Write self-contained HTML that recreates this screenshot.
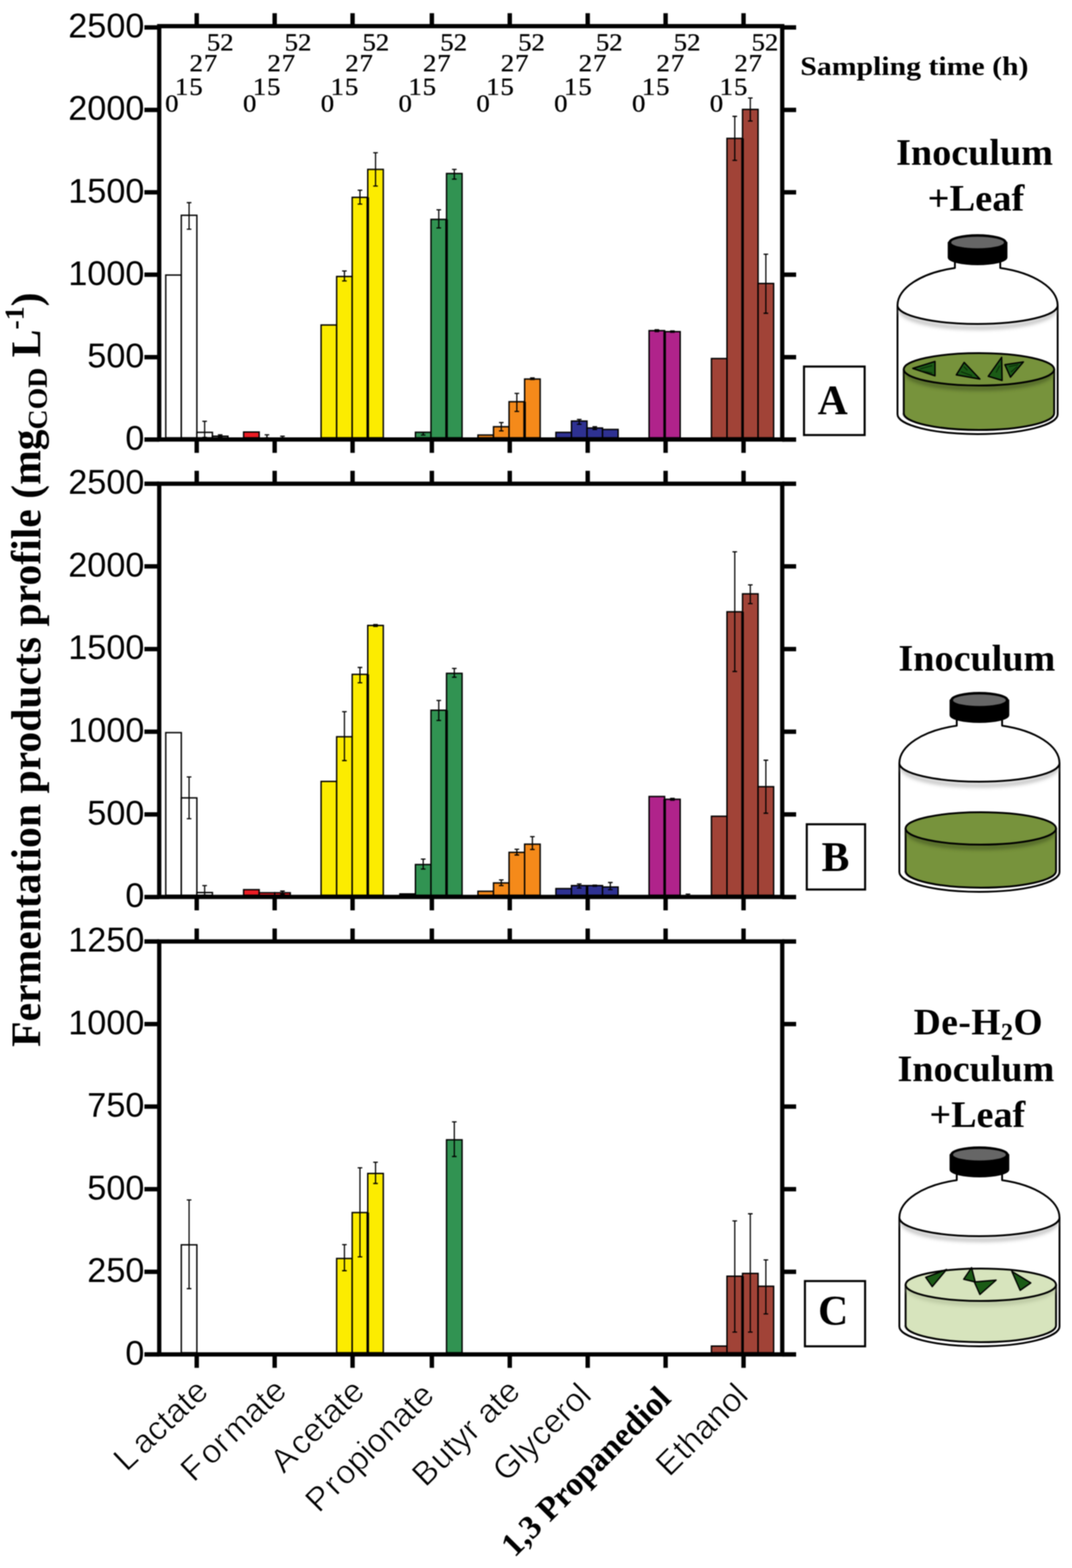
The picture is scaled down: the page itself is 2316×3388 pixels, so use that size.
<!DOCTYPE html>
<html lang="en"><head><meta charset="utf-8"><title>Fermentation products profile</title>
<style>html,body{margin:0;padding:0;background:#fff;}body{width:2316px;height:3388px;overflow:hidden;}svg{display:block;filter:blur(0.8px);}.sans{font-family:"Liberation Sans",Arial,sans-serif;}.serif{font-family:"Liberation Serif","Times New Roman",serif;}</style></head><body>
<svg width="2316" height="3388" viewBox="0 0 2316 3388">
<rect x="0" y="0" width="2316" height="3388" fill="#ffffff"/>
<g stroke="#000" stroke-width="3">
<rect x="358.1" y="594.3" width="33.6" height="351.7" fill="#ffffff"/>
<rect x="391.7" y="465.2" width="33.6" height="480.8" fill="#ffffff"/>
<rect x="425.3" y="934.2" width="33.6" height="11.8" fill="#ffffff"/>
<rect x="458.9" y="942.5" width="33.6" height="3.5" fill="#ffffff"/>
<rect x="526.3" y="933.5" width="33.6" height="12.5" fill="#ec1c24"/>
<rect x="693.7" y="702.2" width="33.6" height="243.8" fill="#fcec00"/>
<rect x="727.3" y="597.4" width="33.6" height="348.6" fill="#fcec00"/>
<rect x="760.9" y="426.4" width="33.6" height="519.6" fill="#fcec00"/>
<rect x="794.5" y="366" width="33.6" height="580" fill="#fcec00"/>
<rect x="897.5" y="934" width="33.6" height="12" fill="#319352"/>
<rect x="931.1" y="474" width="33.6" height="472" fill="#319352"/>
<rect x="964.7" y="374.9" width="33.6" height="571.1" fill="#319352"/>
<rect x="1032.6" y="940" width="33.6" height="6" fill="#f58a1a"/>
<rect x="1066.2" y="922" width="33.6" height="24" fill="#f58a1a"/>
<rect x="1099.8" y="868" width="33.6" height="78" fill="#f58a1a"/>
<rect x="1133.4" y="819" width="33.6" height="127" fill="#f58a1a"/>
<rect x="1201" y="934.2" width="33.6" height="11.8" fill="#2e3192"/>
<rect x="1234.6" y="909.8" width="33.6" height="36.2" fill="#2e3192"/>
<rect x="1268.2" y="924.8" width="33.6" height="21.2" fill="#2e3192"/>
<rect x="1301.8" y="927.9" width="33.6" height="18.1" fill="#2e3192"/>
<rect x="1402.3" y="714.4" width="33.6" height="231.6" fill="#b0238b"/>
<rect x="1435.9" y="716.6" width="33.6" height="229.4" fill="#b0238b"/>
<rect x="1537" y="774.7" width="33.6" height="171.3" fill="#a14337"/>
<rect x="1570.6" y="299" width="33.6" height="647" fill="#a14337"/>
<rect x="1604.2" y="236.4" width="33.6" height="709.6" fill="#a14337"/>
<rect x="1637.8" y="612.5" width="33.6" height="333.5" fill="#a14337"/>
<rect x="358.1" y="1583" width="33.6" height="351.4" fill="#ffffff"/>
<rect x="391.7" y="1724" width="33.6" height="210.4" fill="#ffffff"/>
<rect x="425.3" y="1928.5" width="33.6" height="5.9" fill="#ffffff"/>
<rect x="526.3" y="1922.3" width="33.6" height="12.1" fill="#ec1c24"/>
<rect x="559.9" y="1929" width="33.6" height="5.4" fill="#ec1c24"/>
<rect x="593.5" y="1929" width="33.6" height="5.4" fill="#ec1c24"/>
<rect x="693.7" y="1688.4" width="33.6" height="246" fill="#fcec00"/>
<rect x="727.3" y="1591.9" width="33.6" height="342.5" fill="#fcec00"/>
<rect x="760.9" y="1457.1" width="33.6" height="477.3" fill="#fcec00"/>
<rect x="794.5" y="1351.4" width="33.6" height="583" fill="#fcec00"/>
<rect x="863.9" y="1931.5" width="33.6" height="2.9" fill="#319352"/>
<rect x="897.5" y="1868" width="33.6" height="66.4" fill="#319352"/>
<rect x="931.1" y="1534.6" width="33.6" height="399.8" fill="#319352"/>
<rect x="964.7" y="1454.9" width="33.6" height="479.5" fill="#319352"/>
<rect x="1032.6" y="1925.8" width="33.6" height="8.6" fill="#f58a1a"/>
<rect x="1066.2" y="1907.8" width="33.6" height="26.6" fill="#f58a1a"/>
<rect x="1099.8" y="1841.7" width="33.6" height="92.7" fill="#f58a1a"/>
<rect x="1133.4" y="1824" width="33.6" height="110.4" fill="#f58a1a"/>
<rect x="1201" y="1920" width="33.6" height="14.4" fill="#2e3192"/>
<rect x="1234.6" y="1913.5" width="33.6" height="20.9" fill="#2e3192"/>
<rect x="1268.2" y="1913.5" width="33.6" height="20.9" fill="#2e3192"/>
<rect x="1301.8" y="1916.6" width="33.6" height="17.8" fill="#2e3192"/>
<rect x="1402.3" y="1721" width="33.6" height="213.4" fill="#b0238b"/>
<rect x="1435.9" y="1727" width="33.6" height="207.4" fill="#b0238b"/>
<rect x="1469.5" y="1936" width="33.6" height="-1.6" fill="#b0238b"/>
<rect x="1537" y="1763.7" width="33.6" height="170.7" fill="#a14337"/>
<rect x="1570.6" y="1321.9" width="33.6" height="612.5" fill="#a14337"/>
<rect x="1604.2" y="1283.1" width="33.6" height="651.3" fill="#a14337"/>
<rect x="1637.8" y="1699.8" width="33.6" height="234.6" fill="#a14337"/>
<rect x="391.7" y="2689.7" width="33.6" height="233.2" fill="#ffffff"/>
<rect x="727.3" y="2719.2" width="33.6" height="203.7" fill="#fcec00"/>
<rect x="760.9" y="2620" width="33.6" height="302.9" fill="#fcec00"/>
<rect x="794.5" y="2535.5" width="33.6" height="387.4" fill="#fcec00"/>
<rect x="964.7" y="2462.8" width="33.6" height="460.1" fill="#319352"/>
<rect x="1537" y="2908.5" width="33.6" height="14.4" fill="#a14337"/>
<rect x="1570.6" y="2757.5" width="33.6" height="165.4" fill="#a14337"/>
<rect x="1604.2" y="2751.5" width="33.6" height="171.4" fill="#a14337"/>
<rect x="1637.8" y="2779.2" width="33.6" height="143.7" fill="#a14337"/>
</g>
<g stroke="#000" stroke-width="2.6" fill="none">
<path d="M408.5 437.9V495.2M403.5 437.9H413.5M403.5 495.2H413.5"/>
<path d="M442.1 910.2V945M437.1 910.2H447.1M437.1 945H447.1"/>
<path d="M475.7 939.5V945M470.7 939.5H480.7M470.7 945H480.7"/>
<path d="M576.7 939.5V946M571.7 939.5H581.7M571.7 946H581.7"/>
<path d="M610.3 942.5V946M605.3 942.5H615.3M605.3 946H615.3"/>
<path d="M744.1 585.5V607M739.1 585.5H749.1M739.1 607H749.1"/>
<path d="M777.7 411V441M772.7 411H782.7M772.7 441H782.7"/>
<path d="M811.3 330V402M806.3 330H816.3M806.3 402H816.3"/>
<path d="M914.3 934.5V940M909.3 934.5H919.3M909.3 940H919.3"/>
<path d="M947.9 453.3V492.5M942.9 453.3H952.9M942.9 492.5H952.9"/>
<path d="M981.5 366V387M976.5 366H986.5M976.5 387H986.5"/>
<path d="M1083 913V931M1078 913H1088M1078 931H1088"/>
<path d="M1116.6 850V889M1111.6 850H1121.6M1111.6 889H1121.6"/>
<path d="M1150.2 816.5V820M1145.2 816.5H1155.2M1145.2 820H1155.2"/>
<path d="M1251.4 906.3V916.7M1246.4 906.3H1256.4M1246.4 916.7H1256.4"/>
<path d="M1285 922V927.9M1280 922H1290M1280 927.9H1290"/>
<path d="M1419.1 712.5V716.5M1414.1 712.5H1424.1M1414.1 716.5H1424.1"/>
<path d="M1452.7 715V718M1447.7 715H1457.7M1447.7 718H1457.7"/>
<path d="M1587.4 251.4V346.5M1582.4 251.4H1592.4M1582.4 346.5H1592.4"/>
<path d="M1621 211.7V261.5M1616 211.7H1626M1616 261.5H1626"/>
<path d="M1654.6 549.2V676.9M1649.6 549.2H1659.6M1649.6 676.9H1659.6"/>
<path d="M408.5 1678.7V1769M403.5 1678.7H413.5M403.5 1769H413.5"/>
<path d="M442.1 1913.5V1934M437.1 1913.5H447.1M437.1 1934H447.1"/>
<path d="M610.3 1925.4V1932M605.3 1925.4H615.3M605.3 1932H615.3"/>
<path d="M744.1 1537.7V1643.4M739.1 1537.7H749.1M739.1 1643.4H749.1"/>
<path d="M777.7 1442.1V1475.2M772.7 1442.1H782.7M772.7 1475.2H782.7"/>
<path d="M811.3 1349.5V1353.5M806.3 1349.5H816.3M806.3 1353.5H816.3"/>
<path d="M914.3 1856.2V1877.8M909.3 1856.2H919.3M909.3 1877.8H919.3"/>
<path d="M947.9 1513.5V1556.7M942.9 1513.5H952.9M942.9 1556.7H952.9"/>
<path d="M981.5 1444.3V1463.3M976.5 1444.3H986.5M976.5 1463.3H986.5"/>
<path d="M1083 1901.2V1913.5M1078 1901.2H1088M1078 1913.5H1088"/>
<path d="M1116.6 1835V1847.4M1111.6 1835H1121.6M1111.6 1847.4H1121.6"/>
<path d="M1150.2 1807.8V1835.5M1145.2 1807.8H1155.2M1145.2 1835.5H1155.2"/>
<path d="M1251.4 1910V1918.8M1246.4 1910H1256.4M1246.4 1918.8H1256.4"/>
<path d="M1285 1912.5V1915M1280 1912.5H1290M1280 1915H1290"/>
<path d="M1318.6 1906.9V1922.3M1313.6 1906.9H1323.6M1313.6 1922.3H1323.6"/>
<path d="M1452.7 1725V1729M1447.7 1725H1457.7M1447.7 1729H1457.7"/>
<path d="M1486.3 1932V1936M1481.3 1932H1491.3M1481.3 1936H1491.3"/>
<path d="M1587.4 1192.3V1450.9M1582.4 1192.3H1592.4M1582.4 1450.9H1592.4"/>
<path d="M1621 1263.7V1304.2M1616 1263.7H1626M1616 1304.2H1626"/>
<path d="M1654.6 1642.6V1757.1M1649.6 1642.6H1659.6M1649.6 1757.1H1659.6"/>
<path d="M408.5 2592.8V2784.4M403.5 2592.8H413.5M403.5 2784.4H413.5"/>
<path d="M744.1 2689.3V2745.6M739.1 2689.3H749.1M739.1 2745.6H749.1"/>
<path d="M777.7 2523.2V2715.7M772.7 2523.2H782.7M772.7 2715.7H782.7"/>
<path d="M811.3 2511.3V2557.1M806.3 2511.3H816.3M806.3 2557.1H816.3"/>
<path d="M981.5 2424V2498.9M976.5 2424H986.5M976.5 2498.9H986.5"/>
<path d="M1587.4 2638V2878.3M1582.4 2638H1592.4M1582.4 2878.3H1592.4"/>
<path d="M1621 2622.6V2878.3M1616 2622.6H1626M1616 2878.3H1626"/>
<path d="M1654.6 2722.2V2839M1649.6 2722.2H1659.6M1649.6 2839H1659.6"/>
</g>
<g fill="#000">
<rect x="791.8" y="426.4" width="5.5" height="519.6"/>
<rect x="962" y="474" width="5.5" height="472"/>
<rect x="1130.6" y="868" width="5.5" height="78"/>
<rect x="1433.2" y="716.6" width="5.5" height="229.4"/>
<rect x="1601.5" y="299" width="5.5" height="647"/>
<rect x="1569.1" y="774.7" width="3" height="171.3"/>
<rect x="791.8" y="1457.1" width="5.5" height="477.3"/>
<rect x="962" y="1534.6" width="5.5" height="399.8"/>
<rect x="1265.5" y="1913.5" width="5.5" height="20.9"/>
<rect x="1433.2" y="1727" width="5.5" height="207.4"/>
<rect x="1601.5" y="1321.9" width="5.5" height="612.5"/>
<rect x="791.8" y="2620" width="5.5" height="302.9"/>
<rect x="1601.5" y="2757.5" width="5.5" height="165.4"/>
</g>
<g stroke="#000" stroke-width="9.2" fill="none" stroke-linecap="butt">
<rect x="344" y="56.5" width="1346" height="893.1"/>
<rect x="344" y="1045.2" width="1346" height="892.8"/>
<rect x="344" y="2034.2" width="1346" height="892.3"/>
</g>
<g stroke="#000" stroke-width="9.5" fill="none">
<path d="M312 59.3H344M1690 59.3H1720"/>
<path d="M312 237.4H344M1690 237.4H1720"/>
<path d="M312 415.5H344M1690 415.5H1720"/>
<path d="M312 593.6H344M1690 593.6H1720"/>
<path d="M312 771.7H344M1690 771.7H1720"/>
<path d="M312 949.8H344M1690 949.8H1720"/>
<path d="M425 28.5V56.5M425 949.6V978.6"/>
<path d="M593.4 28.5V56.5M593.4 949.6V978.6"/>
<path d="M761.7 28.5V56.5M761.7 949.6V978.6"/>
<path d="M933 28.5V56.5M933 949.6V978.6"/>
<path d="M1101.3 28.5V56.5M1101.3 949.6V978.6"/>
<path d="M1269.7 28.5V56.5M1269.7 949.6V978.6"/>
<path d="M1438 28.5V56.5M1438 949.6V978.6"/>
<path d="M1606.4 28.5V56.5M1606.4 949.6V978.6"/>
<path d="M312 1045.2H344M1690 1045.2H1720"/>
<path d="M312 1223.8H344M1690 1223.8H1720"/>
<path d="M312 1402.4H344M1690 1402.4H1720"/>
<path d="M312 1581.1H344M1690 1581.1H1720"/>
<path d="M312 1759.7H344M1690 1759.7H1720"/>
<path d="M312 1938.3H344M1690 1938.3H1720"/>
<path d="M425 1017.2V1045.2M425 1938V1967"/>
<path d="M593.4 1017.2V1045.2M593.4 1938V1967"/>
<path d="M761.7 1017.2V1045.2M761.7 1938V1967"/>
<path d="M933 1017.2V1045.2M933 1938V1967"/>
<path d="M1101.3 1017.2V1045.2M1101.3 1938V1967"/>
<path d="M1269.7 1017.2V1045.2M1269.7 1938V1967"/>
<path d="M1438 1017.2V1045.2M1438 1938V1967"/>
<path d="M1606.4 1017.2V1045.2M1606.4 1938V1967"/>
<path d="M312 2034.2H344M1690 2034.2H1720"/>
<path d="M312 2212.7H344M1690 2212.7H1720"/>
<path d="M312 2391.1H344M1690 2391.1H1720"/>
<path d="M312 2569.6H344M1690 2569.6H1720"/>
<path d="M312 2748H344M1690 2748H1720"/>
<path d="M312 2926.5H344M1690 2926.5H1720"/>
<path d="M425 2006.2V2034.2M425 2926.5V2955.5"/>
<path d="M593.4 2006.2V2034.2M593.4 2926.5V2955.5"/>
<path d="M761.7 2006.2V2034.2M761.7 2926.5V2955.5"/>
<path d="M933 2006.2V2034.2M933 2926.5V2955.5"/>
<path d="M1101.3 2006.2V2034.2M1101.3 2926.5V2955.5"/>
<path d="M1269.7 2006.2V2034.2M1269.7 2926.5V2955.5"/>
<path d="M1438 2006.2V2034.2M1438 2926.5V2955.5"/>
<path d="M1606.4 2006.2V2034.2M1606.4 2926.5V2955.5"/>
</g>
<g class="sans" font-size="74" text-anchor="end" fill="#000">
<text x="312" y="81.3">2500</text>
<text x="312" y="259.4">2000</text>
<text x="312" y="437.5">1500</text>
<text x="312" y="615.6">1000</text>
<text x="312" y="793.7">500</text>
<text x="312" y="971.8">0</text>
<text x="312" y="1067.2">2500</text>
<text x="312" y="1245.8">2000</text>
<text x="312" y="1424.4">1500</text>
<text x="312" y="1603.1">1000</text>
<text x="312" y="1781.7">500</text>
<text x="312" y="1960.3">0</text>
<text x="312" y="2056.2">1250</text>
<text x="312" y="2234.7">1000</text>
<text x="312" y="2413.1">750</text>
<text x="312" y="2591.6">500</text>
<text x="312" y="2770">250</text>
<text x="312" y="2948.5">0</text>
</g>
<g class="serif" font-size="52" fill="#000" stroke="#000" stroke-width="0.7">
<text transform="translate(356.8 241) scale(1.11 1)">0</text>
<text transform="translate(378.1 205) scale(1.11 1)" letter-spacing="1.8">15</text>
<text transform="translate(409.6 154) scale(1.11 1)" letter-spacing="1.9">27</text>
<text transform="translate(447 109) scale(1.11 1)">52</text>
<text transform="translate(524.9 241) scale(1.11 1)">0</text>
<text transform="translate(546.2 205) scale(1.11 1)" letter-spacing="1.8">15</text>
<text transform="translate(577.8 154) scale(1.11 1)" letter-spacing="1.9">27</text>
<text transform="translate(615.1 109) scale(1.11 1)">52</text>
<text transform="translate(693 241) scale(1.11 1)">0</text>
<text transform="translate(714.3 205) scale(1.11 1)" letter-spacing="1.8">15</text>
<text transform="translate(745.9 154) scale(1.11 1)" letter-spacing="1.9">27</text>
<text transform="translate(783.2 109) scale(1.11 1)">52</text>
<text transform="translate(861.1 241) scale(1.11 1)">0</text>
<text transform="translate(882.4 205) scale(1.11 1)" letter-spacing="1.8">15</text>
<text transform="translate(913.9 154) scale(1.11 1)" letter-spacing="1.9">27</text>
<text transform="translate(951.3 109) scale(1.11 1)">52</text>
<text transform="translate(1029.2 241) scale(1.11 1)">0</text>
<text transform="translate(1050.5 205) scale(1.11 1)" letter-spacing="1.8">15</text>
<text transform="translate(1082.1 154) scale(1.11 1)" letter-spacing="1.9">27</text>
<text transform="translate(1119.4 109) scale(1.11 1)">52</text>
<text transform="translate(1197.3 241) scale(1.11 1)">0</text>
<text transform="translate(1218.6 205) scale(1.11 1)" letter-spacing="1.8">15</text>
<text transform="translate(1250.2 154) scale(1.11 1)" letter-spacing="1.9">27</text>
<text transform="translate(1287.5 109) scale(1.11 1)">52</text>
<text transform="translate(1365.4 241) scale(1.11 1)">0</text>
<text transform="translate(1386.7 205) scale(1.11 1)" letter-spacing="1.8">15</text>
<text transform="translate(1418.2 154) scale(1.11 1)" letter-spacing="1.9">27</text>
<text transform="translate(1455.6 109) scale(1.11 1)">52</text>
<text transform="translate(1533.5 241) scale(1.11 1)">0</text>
<text transform="translate(1554.8 205) scale(1.11 1)" letter-spacing="1.8">15</text>
<text transform="translate(1586.4 154) scale(1.11 1)" letter-spacing="1.9">27</text>
<text transform="translate(1623.7 109) scale(1.11 1)">52</text>
</g>
<text class="serif" x="1729" y="162" font-size="58" font-weight="bold" textLength="493" lengthAdjust="spacingAndGlyphs">Sampling time (h)</text>
<g class="serif" font-weight="bold" font-size="81" fill="#000">
<text x="1936" y="356" textLength="339" lengthAdjust="spacingAndGlyphs">Inoculum</text>
<text x="2004" y="455" textLength="209" lengthAdjust="spacingAndGlyphs">+Leaf</text>
<text x="1941" y="1449" textLength="339" lengthAdjust="spacingAndGlyphs">Inoculum</text>
<text x="1974" y="2235" letter-spacing="1">De-H<tspan font-size="52" dy="12">2</tspan><tspan dy="-12">O</tspan></text>
<text x="1939" y="2336" textLength="339" lengthAdjust="spacingAndGlyphs">Inoculum</text>
<text x="2008" y="2435" textLength="207" lengthAdjust="spacingAndGlyphs">+Leaf</text>
</g>
<g fill="none" stroke="#000" stroke-width="4.5">
<rect x="1737" y="792" width="131" height="148"/>
<rect x="1743" y="1781" width="126" height="141"/>
<rect x="1739" y="2768" width="130" height="141"/>
</g>
<g class="serif" font-weight="bold" font-size="90" text-anchor="middle" fill="#000">
<text x="1799" y="895">A</text>
<text x="1805" y="1882">B</text>
<text x="1800" y="2862">C</text>
</g>
<text class="serif" font-weight="bold" font-size="90" transform="translate(87 2262) rotate(-90)" textLength="1630" lengthAdjust="spacingAndGlyphs">Fermentation products profile (mg<tspan font-size="60" dy="14">COD</tspan><tspan dy="-14"> L</tspan><tspan font-size="60" dy="-36">-1</tspan><tspan dy="36">)</tspan></text>
<text class="sans" stroke="#fff" stroke-width="1.3" font-size="72" transform="translate(273.4 3181.6) rotate(-43.4)">L<tspan dx="12">actate</tspan></text>
<text class="sans" stroke="#fff" stroke-width="1.3" font-size="72" transform="translate(418.6 3204.5) rotate(-43.6)">F<tspan dx="8">or</tspan><tspan dx="6">mate</tspan></text>
<text class="sans" stroke="#fff" stroke-width="1.3" font-size="72" transform="translate(612.9 3185.7) rotate(-44.5)">A<tspan dx="6">cetate</tspan></text>
<text class="sans" stroke="#fff" stroke-width="1.3" font-size="72" transform="translate(689.1 3270.9) rotate(-45)">P<tspan dx="5">r</tspan><tspan dx="4">opionate</tspan></text>
<text class="sans" stroke="#fff" stroke-width="1.3" font-size="72" transform="translate(919.3 3215.1) rotate(-44.5)">B<tspan dx="3">utyr</tspan><tspan dx="21">ate</tspan></text>
<text class="sans" stroke="#fff" stroke-width="1.3" font-size="72" transform="translate(1093.4 3204.4) rotate(-44.6)">Glycerol</text>
<text class="serif" font-weight="bold" font-size="72" transform="translate(1111.4 3366.7) rotate(-45)">1,3 Propanediol</text>
<text class="sans" stroke="#fff" stroke-width="1.3" font-size="72" transform="translate(1445.9 3193.0) rotate(-45)">E<tspan dx="2">thanol</tspan></text>
<defs><filter id="blur4" x="-20%" y="-100%" width="140%" height="300%"><feGaussianBlur stdDeviation="4"/></filter></defs>
<g transform="translate(0 0)" stroke="#000" stroke-width="4" stroke-linejoin="round">
<path d="M1939 660 V895 A173 43 0 0 0 2285 895 V660" fill="#fff"/>
<path d="M1950 893 A162 36 0 0 0 2276 893" fill="none" stroke="#c8c8c8" stroke-width="2.5"/>
<path d="M1945 668 A167 40 0 0 0 2279 668" fill="none" stroke="#b4b4b4" stroke-width="7" filter="url(#blur4)"/>
<path d="M1939 660 A173 85 0 0 1 2063 579 V565 H2161 V579 A173 85 0 0 1 2285 660 A173 40 0 0 1 1939 660 Z" fill="#fff"/>
<path d="M1952.5 798 V893 A162.5 36 0 0 0 2277.5 893 V798 Z" fill="#77933c"/>
<path d="M1958 804 A157 35 0 0 0 2272 804" fill="none" stroke="#4f6427" stroke-width="9" filter="url(#blur4)"/>
<ellipse cx="2115" cy="798" rx="162.5" ry="35" fill="#77933c"/>
<g fill="#1b5b16" stroke="#000" stroke-width="3">
<path d="M1972 796 L2020 781 L2020 812 Z"/>
<path d="M2083 783 L2066 810 L2117 819 Z"/>
<path d="M2164 772 L2135 813 L2165 822 Z"/>
<path d="M2171 788 L2211 782 L2183 815 Z"/>
</g>
<g fill="none" stroke="#0a2a08" stroke-width="2">
<path d="M1988 797 L2014 790 M1990 801 L2014 806"/>
<path d="M2076 803 L2100 812 M2082 792 L2090 800"/>
<path d="M2152 805 L2160 790"/>
<path d="M2180 792 L2200 788 M2184 804 L2198 792"/>
</g>
<path d="M2049.5 524 V556 A62.5 15 0 0 0 2174.5 556 V524 Z" fill="#000"/>
<ellipse cx="2112" cy="524" rx="61" ry="16" fill="#000"/>
<ellipse cx="2112" cy="524" rx="57" ry="12.5" fill="#666" stroke="none"/>
</g>
<g transform="translate(4 989)" stroke="#000" stroke-width="4" stroke-linejoin="round">
<path d="M1939 660 V895 A173 43 0 0 0 2285 895 V660" fill="#fff"/>
<path d="M1950 893 A162 36 0 0 0 2276 893" fill="none" stroke="#c8c8c8" stroke-width="2.5"/>
<path d="M1945 668 A167 40 0 0 0 2279 668" fill="none" stroke="#b4b4b4" stroke-width="7" filter="url(#blur4)"/>
<path d="M1939 660 A173 85 0 0 1 2063 579 V565 H2161 V579 A173 85 0 0 1 2285 660 A173 40 0 0 1 1939 660 Z" fill="#fff"/>
<path d="M1952.5 801 V893 A162.5 36 0 0 0 2277.5 893 V801 Z" fill="#77933c"/>
<path d="M1958 807 A157 35 0 0 0 2272 807" fill="none" stroke="#4f6427" stroke-width="9" filter="url(#blur4)"/>
<ellipse cx="2115" cy="801" rx="162.5" ry="35" fill="#77933c"/>
<path d="M2049.5 524 V556 A62.5 15 0 0 0 2174.5 556 V524 Z" fill="#000"/>
<ellipse cx="2112" cy="524" rx="61" ry="16" fill="#000"/>
<ellipse cx="2112" cy="524" rx="57" ry="12.5" fill="#666" stroke="none"/>
</g>
<g transform="translate(4 1971)" stroke="#000" stroke-width="4" stroke-linejoin="round">
<path d="M1939 660 V895 A173 43 0 0 0 2285 895 V660" fill="#fff"/>
<path d="M1950 893 A162 36 0 0 0 2276 893" fill="none" stroke="#c8c8c8" stroke-width="2.5"/>
<path d="M1945 668 A167 40 0 0 0 2279 668" fill="none" stroke="#b4b4b4" stroke-width="7" filter="url(#blur4)"/>
<path d="M1939 660 A173 85 0 0 1 2063 579 V565 H2161 V579 A173 85 0 0 1 2285 660 A173 40 0 0 1 1939 660 Z" fill="#fff"/>
<path d="M1952.5 805 V893 A162.5 36 0 0 0 2277.5 893 V805 Z" fill="#d7e4bd"/>
<path d="M1958 811 A157 35 0 0 0 2272 811" fill="none" stroke="#b9c6a0" stroke-width="9" filter="url(#blur4)"/>
<ellipse cx="2115" cy="805" rx="162.5" ry="35" fill="#d7e4bd"/>
<g fill="#1b5b16" stroke="#000" stroke-width="3">
<path d="M1996 789 L2041 772 L2010 809 Z"/>
<path d="M2095 768 L2078 793 L2103 799 Z"/>
<path d="M2101 799 L2148 795 L2113 826 Z"/>
<path d="M2182 776 L2223 801 L2200 817 Z"/>
</g>
<path d="M2049.5 524 V556 A62.5 15 0 0 0 2174.5 556 V524 Z" fill="#000"/>
<ellipse cx="2112" cy="524" rx="61" ry="16" fill="#000"/>
<ellipse cx="2112" cy="524" rx="57" ry="12.5" fill="#666" stroke="none"/>
</g>
</svg>
</body></html>
